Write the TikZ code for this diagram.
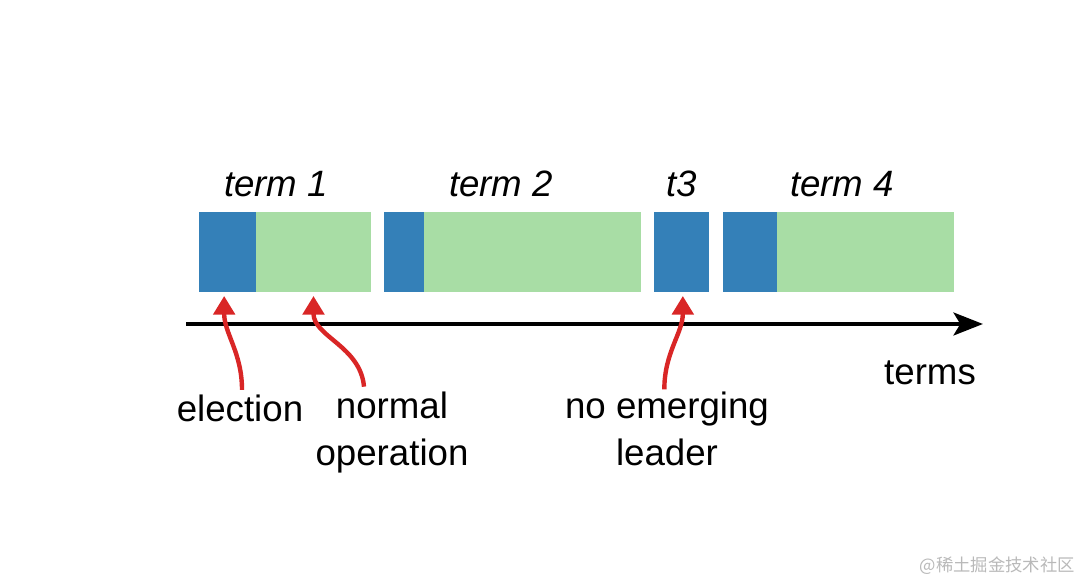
\documentclass[tikz,border=0pt]{standalone}
\usepackage{fontspec}
\setmainfont{Liberation Sans}
\newfontfamily\cjkfont{Noto Sans CJK SC}
\usetikzlibrary{positioning,arrows.meta}
\definecolor{leaderblue}{RGB}{52,128,184}
\definecolor{normalgreen}{RGB}{168,221,165}
\definecolor{markred}{RGB}{217,38,38}

\begin{document}
\begin{tikzpicture}[x=0.75pt, y=0.75pt]
        % --- Styles ---
        \tikzset{
            elect/.style={fill=leaderblue, minimum height=60pt, inner sep=0pt, outer sep=0pt},
            normal/.style={fill=normalgreen, minimum height=60pt, inner sep=0pt, outer sep=0pt},
            termlbl/.style={font=\fontsize{27.5}{33}\selectfont\itshape, inner sep=0pt},
            note/.style={font=\fontsize{27.5}{35}\selectfont, align=center, inner sep=0pt},
            pointer/.style={draw=markred, line width=3.3pt, -{Triangle[width=16pt,length=14pt]}},
            timeline/.style={draw=black, line width=3.6pt, -{Stealth[width=17pt,length=22pt,inset=5pt]}}
        }

        % Cadre de l'image
        \useasboundingbox (0,0) rectangle (1083,582);

        % =====================================================================
        % MANDATS (blocs election + fonctionnement normal)
        % =====================================================================
        \node[elect, minimum width=42.75pt, anchor=south west] (e1) at (199,290) {};
        \node[normal, minimum width=86.25pt, right=0pt of e1] (n1) {};

        \node[elect, minimum width=30pt, anchor=south west] (e2) at (384,290) {};
        \node[normal, minimum width=162.75pt, right=0pt of e2] (n2) {};

        \node[elect, minimum width=41.25pt, anchor=south west] (e3) at (654,290) {};

        \node[elect, minimum width=40.5pt, anchor=south west] (e4) at (723,290) {};
        \node[normal, minimum width=132.75pt, right=0pt of e4] (n4) {};

        % Titres des mandats
        \node[termlbl, anchor=base] (term1) at (276,385) {term 1};
        \node[termlbl, anchor=base] (term2) at (501,385) {term 2};
        \node[termlbl, anchor=base] (term3) at (682,385) {t3};
        \node[termlbl, anchor=base] (term4) at (842,385) {term 4};

        % =====================================================================
        % AXE DU TEMPS
        % =====================================================================
        \coordinate (axstart) at (186,258);
        \coordinate (axend) at (983,258);
        \draw[timeline] (axstart) -- (axend);
        \node[note, anchor=base] (termsnote) at (930,197) {terms};

        % =====================================================================
        % ANNOTATIONS
        % =====================================================================
        \node[note, anchor=base] (elecnote) at (240,160) {election};
        \node[note, anchor=north] (opnote) at (392,190) {normal\\operation};
        \node[note, anchor=north] (leadnote) at (667,190) {no emerging\\leader};

        \coordinate (tipE) at ([xshift=-2.5pt, yshift=-3pt]e1.south);
        \coordinate (tipN) at ([yshift=-3pt]n1.south);
        \coordinate (tipT) at ([xshift=1pt, yshift=-3pt]e3.south);

        \draw[pointer] ([xshift=1.5pt, yshift=4pt]elecnote.north) to[out=90, in=-90] (tipE);
        \draw[pointer] ([xshift=-21pt, yshift=4pt]opnote.north) to[out=95, in=-90] (tipN);
        \draw[pointer] ([xshift=-2pt, yshift=2pt]leadnote.north) to[out=90, in=-90] (tipT);

        % Filigrane
        \node[font=\cjkfont\fontsize{13}{14}\selectfont, text=gray!55, anchor=base east, inner sep=0pt] (wmark) at (1075,10) {@稀土掘金技术社区};

    \end{tikzpicture}
\end{document}
